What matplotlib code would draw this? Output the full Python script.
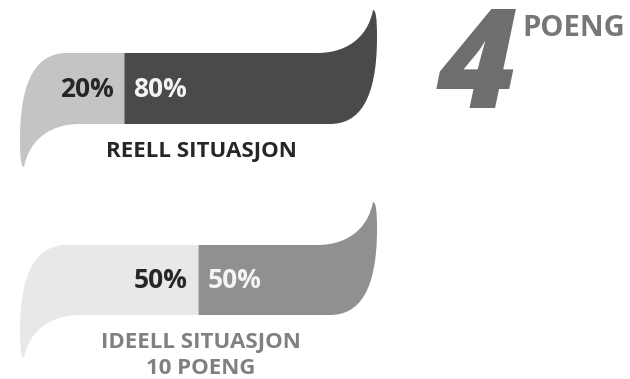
import matplotlib.pyplot as plt
from matplotlib.path import Path
from matplotlib.patches import PathPatch

plt.rcParams['font.family'] = ['Open Sans', 'DejaVu Sans']

labels = ['REELL SITUASJON', 'IDEELL SITUASJON\n10 POENG']
left_share = [20, 50]
right_share = [80, 50]
score = '4'
score_unit = 'POENG'

left_colors = ['#c4c4c4', '#e8e8e8']
right_colors = ['#4a4a4a', '#909090']
label_colors = ['#262626', '#808080']

# bar rows: top / bottom edge in pixels (y axis inverted)
rows = [(53, 124), (245, 315)]

W, H = 630, 379
px = 2.47      # pixels per percent
x0 = 75        # pixel position of 0 %

fig = plt.figure(figsize=(W / 100, H / 100), dpi=100)
ax = fig.add_axes([0, 0, 1, 1])
ax.set_xlim(-x0 / px, (W - x0) / px)
ax.set_ylim(H, 0)
ax.axis('off')


def u(p):
    return p / px


def left_end(split, T, B):
    # left piece with the curled tail at bottom-left
    verts = [(split, T), (u(-8), T),
             (u(-37), T), (u(-55), T + 24), (u(-55), B + 16),
             (u(-55), B + 34), (u(-54), B + 43), (u(-51), B + 43),
             (u(-47), B + 21), (u(-30), B), (u(5), B),
             (split, B), (split, T)]
    codes = [Path.MOVETO, Path.LINETO,
             Path.CURVE4, Path.CURVE4, Path.CURVE4,
             Path.CURVE4, Path.CURVE4, Path.CURVE4,
             Path.CURVE4, Path.CURVE4, Path.CURVE4,
             Path.LINETO, Path.CLOSEPOLY]
    return Path(verts, codes)


def right_end(split, T, B):
    R = 100
    verts = [(split, B), (R + u(8), B),
             (R + u(37), B), (R + u(55), B - 24), (R + u(55), T - 16),
             (R + u(55), T - 34), (R + u(54), T - 43), (R + u(51), T - 43),
             (R + u(47), T - 21), (R + u(30), T), (R - u(5), T),
             (split, T), (split, B)]
    codes = [Path.MOVETO, Path.LINETO,
             Path.CURVE4, Path.CURVE4, Path.CURVE4,
             Path.CURVE4, Path.CURVE4, Path.CURVE4,
             Path.CURVE4, Path.CURVE4, Path.CURVE4,
             Path.LINETO, Path.CLOSEPOLY]
    return Path(verts, codes)


for i, (T, B) in enumerate(rows):
    split = left_share[i]
    ax.add_patch(PathPatch(left_end(split, T, B), facecolor=left_colors[i],
                           edgecolor='none'))
    ax.add_patch(PathPatch(right_end(split, T, B), facecolor=right_colors[i],
                           edgecolor='none'))
    ym = (T + B) / 2 + 1
    ax.text(split - u(11), ym, f'{left_share[i]}%', ha='right', va='center',
            fontsize=19, fontweight='bold', color='#262626')
    ax.text(split + u(9), ym, f'{right_share[i]}%', ha='left', va='center',
            fontsize=19, fontweight='bold', color='#f4f4f4')
    ax.text(u(126), B + 17, labels[i], ha='center', va='top', fontsize=16,
            fontweight='bold', color=label_colors[i], linespacing=1.3)

ax.text(u(362), 108, score, ha='left', va='baseline', fontsize=100,
        fontweight='heavy', style='italic', color='#6e6e6e')
ax.text(u(447), 36, score_unit, ha='left', va='baseline', fontsize=21,
        fontweight='bold', color='#777777')

plt.savefig('out.png', dpi=100)
